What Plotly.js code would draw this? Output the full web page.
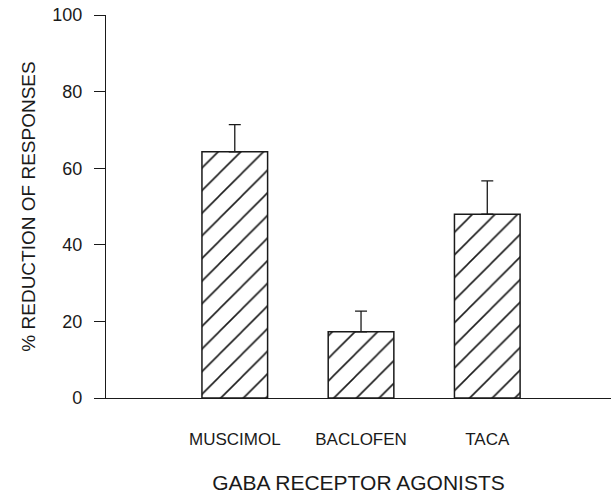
<!DOCTYPE html>
<html>
<head>
<meta charset="utf-8">
<script src="https://cdn.plot.ly/plotly-3.0.1.min.js"></script>
<style>html,body{margin:0;padding:0;background:#fff;}#chart{width:616px;height:495px;}</style>
</head>
<body>
<div id="chart"></div>
<script>
const categories = ["MUSCIMOL", "BACLOFEN", "TACA"];
const meanReduction = [64.3, 17.3, 48.0];
const semReduction = [7.1, 5.4, 8.7];
const yTickValues = [0, 20, 40, 60, 80, 100];

const ink = "#1a1a1a";

const trace = {
  type: "bar",
  x: categories,
  y: meanReduction,
  width: 0.52,
  marker: {
    color: "#ffffff",
    line: {color: ink, width: 1.5},
    pattern: {shape: "/", fgcolor: ink, bgcolor: "#ffffff", size: 16, solidity: 0.1}
  },
  error_y: {
    type: "data",
    symmetric: false,
    array: semReduction,
    arrayminus: [0, 0, 0],
    color: ink,
    thickness: 1.3,
    width: 6
  },
  hoverinfo: "skip"
};

const layout = {
  width: 616,
  height: 495,
  margin: {l: 106, r: 5, t: 15, b: 97},
  paper_bgcolor: "#ffffff",
  plot_bgcolor: "#ffffff",
  showlegend: false,
  font: {family: "Liberation Sans, Arial, sans-serif", color: ink},
  xaxis: {
    type: "category",
    range: [-1.02, 2.98],
    showline: true,
    linecolor: ink,
    linewidth: 1.2,
    ticks: "",
    showgrid: false,
    zeroline: false,
    tickfont: {size: 17, color: ink},
    ticklabelstandoff: 25,
    automargin: false,
    title: {text: "GABA RECEPTOR AGONISTS", font: {size: 21, color: ink}, standoff: 27}
  },
  yaxis: {
    range: [0, 100],
    tickvals: yTickValues,
    showline: true,
    linecolor: ink,
    linewidth: 1.2,
    ticks: "outside",
    ticklen: 11,
    tickcolor: ink,
    tickwidth: 1,
    showgrid: false,
    zeroline: false,
    tickfont: {size: 18, color: ink},
    ticklabelstandoff: 8,
    automargin: false,
    title: {text: "% REDUCTION OF RESPONSES", font: {size: 19, color: ink}, standoff: 11}
  }
};

Plotly.newPlot("chart", [trace], layout, {staticPlot: true, displayModeBar: false});
</script>
</body>
</html>
